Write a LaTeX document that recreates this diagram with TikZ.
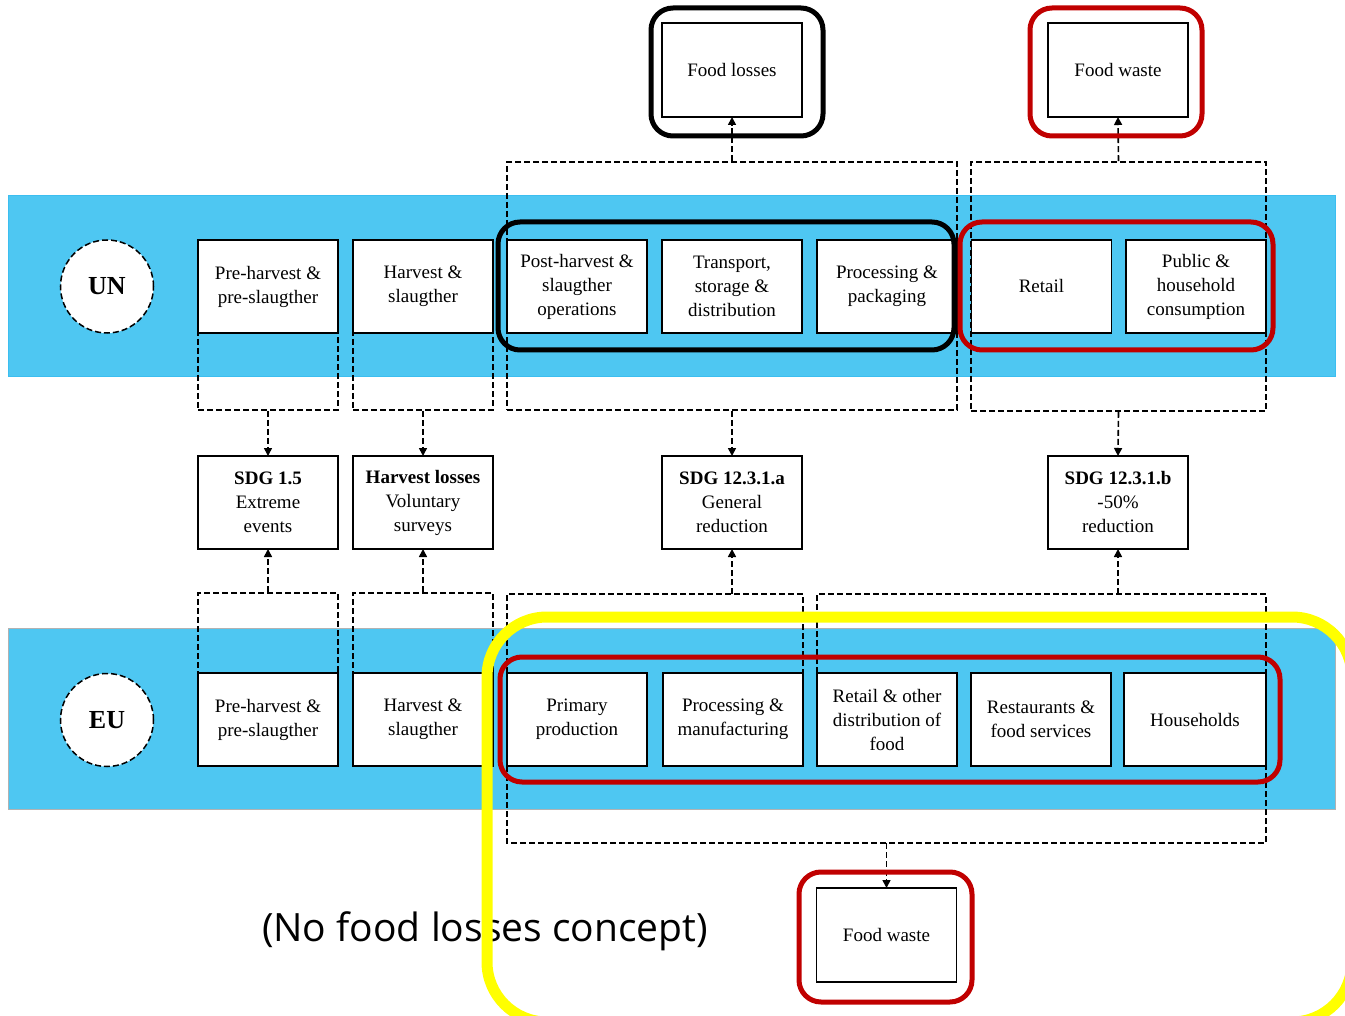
\documentclass[tikz,border=0pt]{standalone}
\usepackage{fontspec}
\setmainfont{Liberation Serif}
\newfontfamily\notefont{Open Sans}
\usetikzlibrary{arrows.meta, positioning, calc}

\definecolor{bandblue}{RGB}{78,199,242}
\definecolor{bandedge}{RGB}{60,190,240}
\definecolor{wastered}{RGB}{192,0,0}
\definecolor{markyellow}{RGB}{255,255,0}

\tikzset{
  stage/.style={draw, line width=1.6pt, fill=white, minimum width=140pt, minimum height=93pt,
    inner sep=1pt, outer sep=0pt, align=center, font=\fontsize{19}{24}\selectfont},
  group/.style={draw, line width=1.6pt, dash pattern=on 6pt off 3pt},
  actor/.style={circle, draw, line width=1.5pt, dash pattern=on 6pt off 3pt, fill=white,
    minimum size=93pt, inner sep=0pt, font=\fontsize{26}{30}\selectfont\bfseries},
  flow/.style={line width=1.6pt, dash pattern=on 6pt off 3pt, -{Triangle[length=8pt,width=8pt]}},
  frame/.style={line width=5pt, rounded corners=22pt},
}

\begin{document}
\begin{tikzpicture}[x=1pt, y=-1pt]
    \useasboundingbox (0,0) rectangle (1345,1016);

    % Bands
    \draw[fill=bandblue, draw=bandedge, line width=0.8pt] (8,195) rectangle (1335,376);
    \draw[fill=bandblue, draw=black!30, line width=0.8pt] (8,628) rectangle (1335,809);

    % Dashed groups of stages
    \node[group, minimum width=140pt, minimum height=170pt] (unGPre) at (268,325) {};
    \node[group, minimum width=140pt, minimum height=170pt] (unGHar) at (423,325) {};
    \node[group, minimum width=450pt, minimum height=248pt] (unGLoss) at (732,286) {};
    \node[group, minimum width=295pt, minimum height=249pt] (unGWaste) at (1118.5,286.5) {};
    \node[group, minimum width=140pt, minimum height=173pt] (euGPre) at (268,679.5) {};
    \node[group, minimum width=140pt, minimum height=173pt] (euGHar) at (423,679.5) {};

    % Actors
    \node[actor] (un) at (107,286.5) {UN};
    \node[actor] (eu) at (107,720) {EU};

    % UN stages
    \node[stage] (unPre) at (268,286.5) {Pre-harvest \&\\pre-slaugther};
    \node[stage] (unHar) at (423,286.5) {Harvest \&\\slaugther};
    \node[stage] (unPost) at (577,286.5) {Post-harvest \&\\slaugther\\operations};
    \node[stage] (unTrans) at (732,286.5) {Transport,\\storage \&\\distribution};
    \node[stage] (unProc) at (887,286.5) {Processing \&\\packaging};
    \node[stage] (unRet) at (1041.5,286.5) {Retail};
    \node[stage] (unCons) at (1196,286.5) {Public \&\\household\\consumption};

    % EU stages
    \node[stage] (euPre) at (268,719.5) {Pre-harvest \&\\pre-slaugther};
    \node[stage] (euHar) at (423,719.5) {Harvest \&\\slaugther};
    \node[stage] (euPrim) at (577,719.5) {Primary\\production};
    \node[stage] (euProc) at (733,719.5) {Processing \&\\manufacturing};
    \node[stage] (euRet) at (887,719.5) {Retail \& other\\distribution of\\food};
    \node[stage] (euRest) at (1041,719.5) {Restaurants \&\\food services};
    \node[stage, minimum width=142pt] (euHouse) at (1195,719.5) {Households};

    % Dashed groups of the EU waste stages
    \coordinate (euATop) at ($(euPrim.north west)+(0,-79)$);
    \coordinate (euBTop) at ($(euRet.north west)+(0,-79)$);
    \draw[group] (euPrim.north west) -- (euATop) -| (euProc.north east);
    \draw[group] (euRet.north west) -- (euBTop) -| (euHouse.north east);
    \coordinate (euBL) at ($(euPrim.south west)+(0,77)$);
    \coordinate (euBR) at ($(euHouse.south east)+(0,77)$);
    \coordinate (euJoin) at ($(euBL)!0.5!(euBR)$);
    \draw[group] (euPrim.south west) -- (euBL) -- (euBR) -- (euHouse.south east);

    % Indicators
    \node[stage] (sdgExt) at (268,502.5) {\textbf{SDG 1.5}\\Extreme\\events};
    \node[stage] (sdgHar) at (423,502.5) {\textbf{Harvest losses}\\Voluntary\\surveys};
    \node[stage] (sdgA) at (732,502.5) {\textbf{SDG 12.3.1.a}\\General\\reduction};
    \node[stage] (sdgB) at (1118,502.5) {\textbf{SDG 12.3.1.b}\\-50\%\\reduction};

    % Concepts
    \node[stage, minimum height=94pt] (lossUN) at (732,70) {Food losses};
    \node[stage, minimum height=94pt] (wasteUN) at (1118,70) {Food waste};
    \node[stage, minimum height=94pt] (wasteEU) at (886.5,935) {Food waste};

    % Flows
    \draw[flow] (unGPre.south) -- (sdgExt.north);
    \draw[flow] (unGHar.south) -- (sdgHar.north);
    \draw[flow] (unGLoss.south) -- (sdgA.north);
    \draw[flow] (unGWaste.south) -- (sdgB.north);
    \draw[flow] (euGPre.north) -- (sdgExt.south);
    \draw[flow] (euGHar.north) -- (sdgHar.south);
    \draw[flow] (sdgA.south |- euATop) -- (sdgA.south);
    \draw[flow] (sdgB.south |- euBTop) -- (sdgB.south);
    \draw[flow] (unGLoss.north) -- (lossUN.south);
    \draw[flow] (unGWaste.north) -- (wasteUN.south);
    \draw[flow] (euJoin) -- (euJoin -| wasteEU.north) -- (wasteEU.north);

    % Frames
    \draw[frame] (651,8) rectangle (823,136);
    \draw[frame, wastered] (1030,8) rectangle (1202,136);
    \draw[frame] (498,222) rectangle (954,350);
    \draw[frame, wastered] (960,222) rectangle (1273,350);
    \draw[frame, wastered] (500,657) rectangle (1280,782);
    \draw[frame, wastered] (799,872) rectangle (972,1002);

    % Note
    \node[font=\notefont\fontsize{39}{44}\selectfont] (noLoss) at (485,931) {(No food losses concept)};
    \draw[markyellow, line width=11pt, rounded corners=60pt] (487,617) rectangle (1352,1022);
\end{tikzpicture}
\end{document}
